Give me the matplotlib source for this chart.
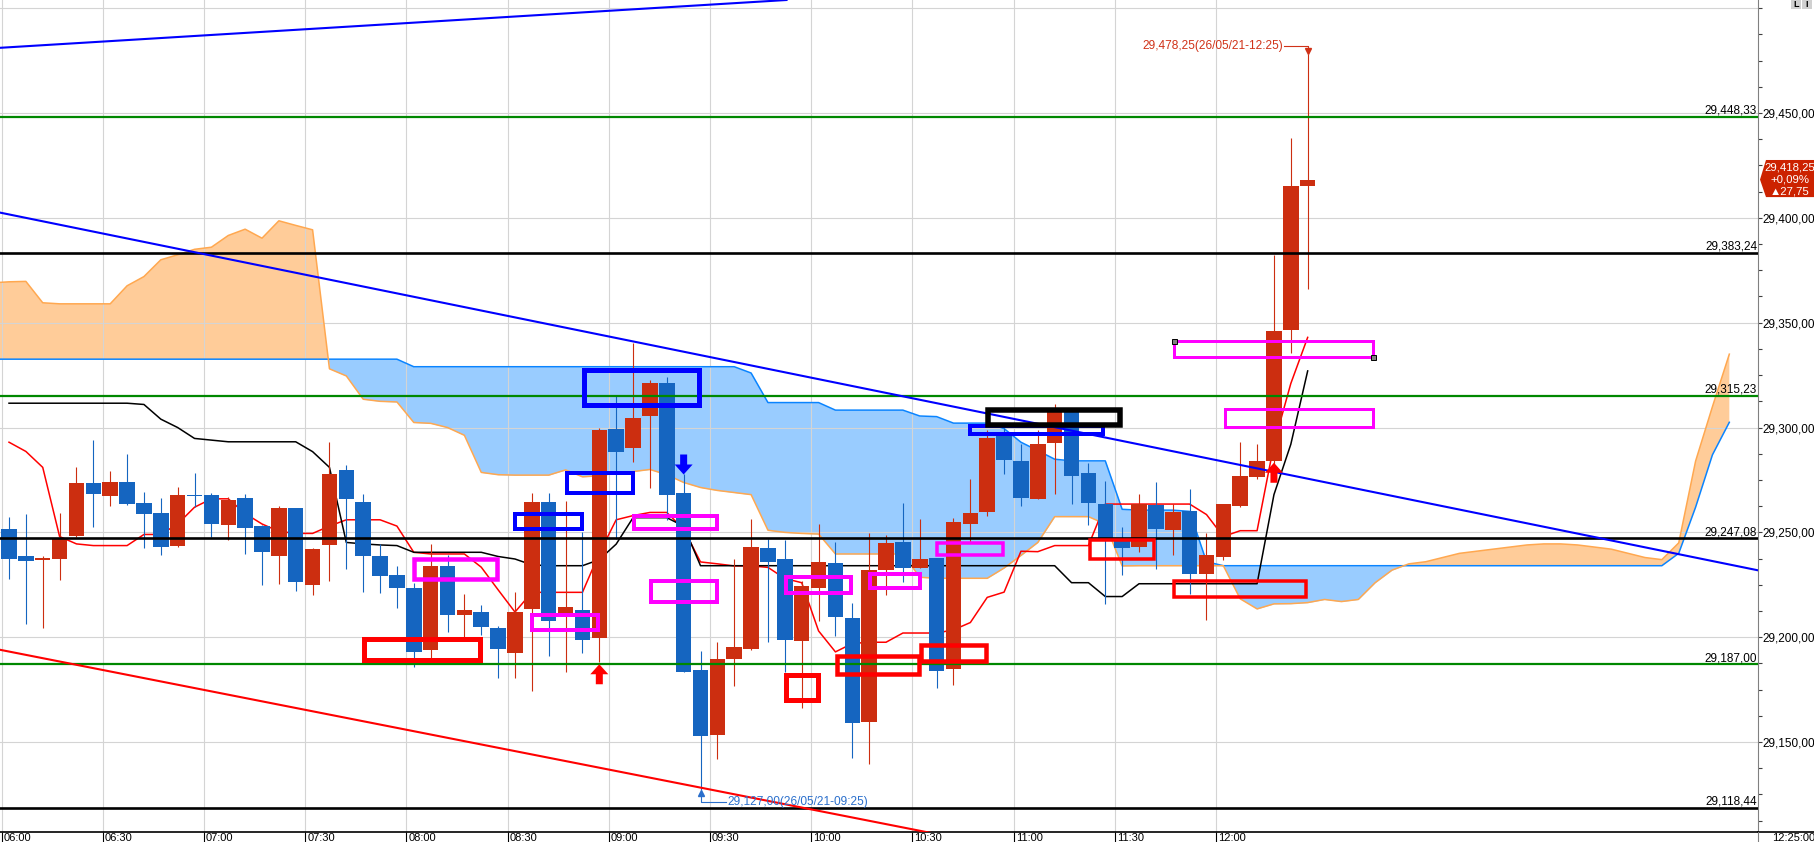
import matplotlib
matplotlib.use("Agg")
import matplotlib.pyplot as plt
import matplotlib.patches as patches
import matplotlib.transforms as mtransforms
from matplotlib.lines import Line2D
from matplotlib.ticker import FixedLocator, MultipleLocator, FuncFormatter
import numpy as np

plt.rcParams['font.family'] = ['Liberation Sans', 'DejaVu Sans']

# 5 minute candles, 06:00 .. 12:25 (bar index 0..77)
opens = [29251.6, 29238.7, 29237.0, 29237.3, 29248.4, 29273.5, 29267.3, 29274.0, 29264.0, 29259.2,
         29243.5, 29268.0, 29267.8, 29253.5, 29266.3, 29253.0, 29238.7, 29261.6, 29224.9, 29244.0,
         29279.7, 29264.4, 29238.7, 29229.7, 29223.5, 29194.0, 29234.0, 29210.6, 29212.0, 29204.4,
         29192.5, 29213.5, 29264.4, 29209.7, 29213.0, 29199.7, 29299.2, 29290.2, 29305.4, 29321.1,
         29268.7, 29184.4, 29153.2, 29189.7, 29194.4, 29242.5, 29237.3, 29198.3, 29223.5, 29235.4,
         29209.2, 29159.7, 29232.0, 29245.4, 29233.0, 29237.8, 29184.6, 29254.0, 29259.7, 29297.8,
         29284.0, 29265.9, 29292.5, 29307.3, 29278.3, 29263.5, 29246.3, 29243.0, 29263.0, 29251.1,
         29260.2, 29230.2, 29238.3, 29262.5, 29276.3, 29284.0, 29346.5, 29415.1]
highs = [29257.3, 29258.7, 29238.7, 29259.2, 29281.1, 29294.0, 29279.2, 29287.3, 29269.2, 29266.3,
         29271.6, 29278.3, 29268.7, 29267.0, 29268.3, 29253.5, 29262.5, 29261.6, 29242.5, 29293.0,
         29282.0, 29268.3, 29244.4, 29234.0, 29226.0, 29244.4, 29239.2, 29220.6, 29215.4, 29205.4,
         29221.6, 29268.7, 29268.7, 29264.9, 29250.0, 29299.7, 29315.0, 29340.2, 29322.5, 29324.0,
         29277.8, 29193.5, 29197.6, 29237.3, 29256.3, 29246.8, 29246.3, 29227.0, 29254.0, 29245.4,
         29216.3, 29249.7, 29248.7, 29264.0, 29256.3, 29238.0, 29256.8, 29275.4, 29298.7, 29300.0,
         29292.0, 29298.7, 29311.1, 29309.0, 29283.0, 29274.4, 29252.4, 29268.3, 29274.0, 29263.5,
         29270.6, 29249.7, 29263.5, 29293.0, 29292.0, 29382.4, 29438.1, 29478.25]
lows = [29227.8, 29206.3, 29204.4, 29227.3, 29248.0, 29252.7, 29262.5, 29263.0, 29242.5, 29239.2,
        29243.0, 29262.0, 29247.8, 29246.3, 29239.7, 29224.9, 29225.4, 29222.0, 29220.2, 29226.8,
        29232.5, 29221.6, 29221.1, 29214.0, 29185.9, 29189.7, 29202.5, 29200.0, 29201.0, 29180.6,
        29180.6, 29174.4, 29191.0, 29183.5, 29192.5, 29188.3, 29247.0, 29283.5, 29271.1, 29256.0,
        29183.3, 29127.0, 29142.0, 29176.5, 29194.0, 29197.8, 29183.3, 29166.3, 29207.8, 29200.6,
        29142.5, 29139.7, 29220.2, 29226.3, 29233.0, 29176.0, 29177.0, 29245.0, 29257.8, 29277.8,
        29262.5, 29265.9, 29268.3, 29263.5, 29253.5, 29215.9, 29229.7, 29240.6, 29232.5, 29239.2,
        29220.6, 29208.3, 29236.8, 29262.0, 29275.4, 29278.0, 29335.7, 29366.2]
closes = [29237.3, 29236.3, 29237.2, 29247.1, 29273.5, 29268.3, 29274.0, 29263.5, 29258.7, 29243.0,
          29267.8, 29267.3, 29254.0, 29265.4, 29252.0, 29240.6, 29261.6, 29226.3, 29242.0, 29277.8,
          29265.9, 29238.7, 29229.2, 29223.5, 29193.0, 29234.0, 29210.6, 29213.0, 29204.9, 29194.4,
          29212.0, 29264.4, 29207.8, 29214.4, 29198.7, 29298.7, 29288.3, 29304.4, 29321.1, 29267.8,
          29183.3, 29152.9, 29189.7, 29195.2, 29243.0, 29235.9, 29198.7, 29224.4, 29235.9, 29209.8,
          29159.2, 29232.1, 29244.9, 29233.0, 29237.3, 29184.1, 29254.9, 29259.2, 29294.9, 29284.4,
          29266.3, 29292.0, 29307.8, 29276.8, 29264.0, 29246.3, 29242.5, 29263.5, 29251.6, 29259.7,
          29230.2, 29239.2, 29263.5, 29276.8, 29284.0, 29345.9, 29415.4, 29418.25]

# ichimoku conversion / base lines, one value per candle
tenkan = [29293.0, 29288.6, 29281.0, 29248.0, 29244.5, 29243.7, 29243.7, 29243.7, 29249.0, 29249.0,
          29254.0, 29262.0, 29266.0, 29266.0, 29259.0, 29254.0, 29250.5, 29249.5, 29249.5, 29253.0,
          29256.0, 29256.0, 29256.0, 29253.0, 29240.5, 29239.7, 29239.7, 29239.7, 29233.4, 29222.6,
          29212.0, 29221.4, 29221.4, 29221.4, 29221.4, 29240.0, 29256.0, 29258.0, 29259.5, 29259.5,
          29251.6, 29235.9, 29235.0, 29234.0, 29234.0, 29233.3, 29228.0, 29226.0, 29203.0, 29193.0,
          29197.0, 29197.6, 29197.6, 29202.0, 29202.0, 29202.0, 29203.5, 29207.0, 29219.0, 29221.5,
          29241.0, 29240.8, 29243.7, 29243.7, 29243.7, 29263.5, 29263.5, 29263.5, 29263.5, 29263.5,
          29263.5, 29258.5, 29248.0, 29250.8, 29250.8, 29292.0, 29321.0, 29343.0]
kijun = [29311.6, 29311.6, 29311.6, 29311.6, 29311.6, 29311.6, 29311.6, 29311.6, 29311.0, 29304.0,
         29300.0, 29294.8, 29294.0, 29293.2, 29293.2, 29293.2, 29293.2, 29293.2, 29288.5, 29281.0,
         29245.2, 29244.5, 29244.0, 29243.7, 29240.5, 29240.5, 29240.5, 29240.5, 29240.5, 29238.5,
         29237.3, 29234.5, 29234.1, 29234.1, 29234.1, 29237.0, 29244.4, 29257.0, 29257.0, 29257.0,
         29253.0, 29234.1, 29234.1, 29234.1, 29234.1, 29234.1, 29234.1, 29234.1, 29234.1, 29234.1,
         29234.1, 29234.1, 29234.1, 29234.1, 29234.1, 29234.1, 29234.1, 29234.1, 29234.1, 29234.1,
         29234.1, 29234.1, 29234.1, 29226.0, 29226.0, 29219.4, 29219.4, 29225.5, 29225.5, 29225.5,
         29225.5, 29225.5, 29225.5, 29225.5, 29225.5, 29268.0, 29292.0, 29327.0]

# leading spans (cloud), index -1 .. 102
span_start = -1
span_a = [29332.6, 29332.6, 29332.6, 29332.6, 29332.6, 29332.6, 29332.6, 29332.6, 29332.6, 29332.6,
          29332.6, 29332.6, 29332.6, 29332.6, 29332.6, 29332.6, 29332.6, 29332.6, 29332.6, 29332.6,
          29332.6, 29332.6, 29332.6, 29332.6, 29332.6, 29329.0, 29329.0, 29329.0, 29329.0, 29329.0,
          29329.0, 29329.0, 29329.0, 29329.0, 29329.0, 29329.0, 29329.0, 29329.0, 29329.0, 29329.0,
          29329.0, 29329.0, 29329.0, 29329.0, 29329.0, 29326.0, 29311.9, 29311.9, 29311.9, 29311.9,
          29308.3, 29308.3, 29308.3, 29308.3, 29308.3, 29305.5, 29305.2, 29302.1, 29302.1, 29302.1,
          29299.5, 29293.0, 29289.0, 29284.9, 29284.1, 29284.1, 29284.1, 29261.0, 29260.6, 29260.6,
          29260.6, 29260.0, 29236.0, 29234.1, 29234.1, 29234.1, 29234.1, 29234.1, 29234.1, 29234.1,
          29234.1, 29234.1, 29234.1, 29234.1, 29234.1, 29234.1, 29234.1, 29234.1, 29234.1, 29234.1,
          29234.1, 29234.1, 29234.1, 29234.1, 29234.1, 29234.1, 29234.1, 29234.1, 29234.1, 29234.1,
          29240.0, 29262.0, 29287.0, 29302.5]
span_b = [29369.0, 29369.5, 29369.7, 29359.5, 29359.0, 29359.0, 29359.0, 29359.0, 29367.6, 29372.0,
          29380.0, 29382.4, 29385.0, 29386.0, 29391.6, 29394.6, 29390.3, 29398.6, 29396.4, 29394.3,
          29328.0, 29324.6, 29313.5, 29312.5, 29312.2, 29302.4, 29302.0, 29300.0, 29296.3, 29278.6,
          29277.5, 29277.3, 29277.3, 29277.3, 29279.8, 29276.5, 29277.0, 29278.3, 29279.0, 29280.0,
          29277.5, 29273.8, 29271.4, 29270.0, 29269.0, 29268.0, 29251.0, 29250.0, 29249.5, 29249.2,
          29239.7, 29239.7, 29239.7, 29239.7, 29239.7, 29228.6, 29228.1, 29228.1, 29228.1, 29228.1,
          29233.0, 29239.0, 29245.2, 29257.5, 29257.5, 29257.5, 29254.0, 29234.0, 29234.1, 29234.1,
          29234.1, 29234.1, 29234.1, 29234.1, 29218.3, 29213.5, 29215.9, 29216.0, 29216.5, 29218.0,
          29217.0, 29218.0, 29226.0, 29232.0, 29235.0, 29236.0, 29238.0, 29240.0, 29241.0, 29242.0,
          29243.0, 29244.0, 29244.5, 29244.5, 29244.0, 29243.0, 29242.0, 29240.0, 29238.0, 29237.0,
          29245.0, 29284.0, 29310.0, 29335.0]

# horizontal levels
level_values = [29448.33, 29383.24, 29315.23, 29247.08, 29187.00, 29118.44]
level_colors = ['#008800', 'black', '#008800', 'black', '#008800', 'black']

time_labels = ['06:00', '06:30', '07:00', '07:30', '08:00', '08:30', '09:00',
               '09:30', '10:00', '10:30', '11:00', '11:30', '12:00']

# trend lines: (bar0, price0, bar1, price1, colour)
trend_lines = [(-0.53, 29481.1, 46.1, 29503.9, '#0000FF'),
               (-0.53, 29402.5, 103.7, 29231.9, '#0000FF'),
               (-0.53, 29194.0, 60.0, 29098.2, '#FF0000')]

# drawn boxes: (bar0, bar1, price_low, price_high, colour, border px)
boxes = [(21.05, 27.93, 29189.0, 29199.0, '#FF0000', 5),
         (24.04, 28.93, 29227.9, 29237.1, '#FF00FF', 4.5),
         (30.03, 33.98, 29251.4, 29258.6, '#0000FF', 4),
         (31.01, 34.95, 29203.3, 29210.7, '#FF00FF', 4),
         (33.06, 36.97, 29269.0, 29278.3, '#0000FF', 4),
         (34.09, 40.91, 29310.7, 29327.4, '#0000FF', 5),
         (37.03, 41.98, 29251.7, 29257.6, '#FF00FF', 4),
         (38.04, 41.98, 29216.9, 29226.9, '#FF00FF', 4),
         (46.04, 49.93, 29221.2, 29228.8, '#FF00FF', 4),
         (46.07, 47.97, 29170.0, 29181.9, '#FF0000', 5),
         (49.07, 53.96, 29182.6, 29191.2, '#FF0000', 4.5),
         (51.02, 53.99, 29223.3, 29230.2, '#FF00FF', 4),
         (54.05, 57.93, 29188.6, 29196.4, '#FF0000', 4.5),
         (55.02, 58.94, 29239.3, 29244.8, '#FF00FF', 3.5),
         (56.98, 64.87, 29296.7, 29300.5, '#0000FF', 4),
         (58.05, 65.90, 29301.4, 29308.3, '#000000', 5.5),
         (64.07, 67.89, 29237.1, 29246.2, '#FF0000', 3.5),
         (69.08, 80.90, 29333.8, 29341.2, '#FF00FF', 3),
         (72.07, 80.88, 29300.2, 29308.6, '#FF00FF', 3),
         (69.08, 76.90, 29219.0, 29226.9, '#FF0000', 3.5)]

# signal arrows: (bar, tip price, direction, colour)
signal_arrows = [(35, 29187.1, 'up', '#FF0000'),
                 (40, 29277.6, 'down', '#0000FF'),
                 (75, 29283.2, 'up', '#FF0000')]

RED = '#CC2E10'
BLUE = '#1565C0'
FS = 8.5


def fmt_price(v):
    return f"{v:,.2f}".replace(".", ",")


W, H = 1815, 842
fig = plt.figure(figsize=(W / 100, H / 100), dpi=100)
ax = fig.add_axes([0, 10 / H, 1758 / W, 832 / H])
ax.set_xlim(-0.534, 103.7)
ax.set_ylim(29107.1, 29503.9)

# cloud
sx = np.arange(span_start, span_start + len(span_a))
sa = np.array(span_a)
sb = np.array(span_b)
ax.fill_between(sx, sa, sb, where=sa >= sb, interpolate=True, color='#99CCFF', lw=0, zorder=1)
ax.fill_between(sx, sa, sb, where=sb > sa, interpolate=True, color='#FFCC99', lw=0, zorder=1)
ax.plot(sx, sa, color='#0A84FF', lw=1.1, zorder=1.7)
ax.plot(sx, sb, color='#FFA850', lw=1.1, zorder=1.7)

# conversion / base lines
bx = np.arange(len(opens))
ax.plot(bx, tenkan, color='#FF0000', lw=1.1, zorder=2.0)
ax.plot(bx, kijun, color='black', lw=1.1, zorder=2.1)

# candles
o = np.array(opens)
c = np.array(closes)
cols = np.where(c >= o, RED, BLUE)
ax.vlines(bx, lows, highs, colors=cols, lw=0.8, zorder=3)
ax.bar(bx, np.maximum(np.abs(c - o), 0.6), bottom=np.minimum(o, c), width=0.92,
       color=cols, linewidth=0, zorder=3.1)

# horizontal levels with labels
for v, col in zip(level_values, level_colors):
    ax.axhline(v, color=col, lw=1.9 if col == 'black' else 1.6, zorder=5)
    ax.text(0.9995, v + 1.6, fmt_price(v), transform=ax.get_yaxis_transform(),
            ha='right', va='baseline', fontsize=FS, color='black', zorder=8)

# trend lines
for x0, y0, x1, y1, col in trend_lines:
    ax.plot([x0, x1], [y0, y1], color=col, lw=1.5, zorder=5.5)

# boxes
for x0, x1, p0, p1, col, px in boxes:
    ax.add_patch(patches.Rectangle((x0, p0), x1 - x0, p1 - p0, fill=False, edgecolor=col,
                                   lw=px * 0.72, joinstyle='miter', zorder=6))
ax.plot([69.08, 80.9], [29341.2, 29333.8], ls='none', marker='s', ms=3.6,
        mfc='#808080', mec='black', mew=0.7, zorder=6.5)


def draw_arrow(x, tip, direction, col):
    s = 1 if direction == 'up' else -1
    hw, sw, hl, tot = 9, 3.5, 10, 20
    verts = [(0, 0), (hw, -s * hl), (sw, -s * hl), (sw, -s * tot),
             (-sw, -s * tot), (-sw, -s * hl), (-hw, -s * hl)]
    tx, ty = ax.transData.transform((x, tip))
    tr = mtransforms.Affine2D().translate(tx, ty)
    ax.add_patch(patches.Polygon(verts, closed=True, transform=tr, color=col, lw=0, zorder=7))


for x, tip, d, col in signal_arrows:
    draw_arrow(x, tip, d, col)

# high / low marks
hi_col = '#D03218'
ax.plot([75.6, 77, 77], [29481.9, 29481.9, 29480.2], color=hi_col, lw=0.8, zorder=7)
ax.plot([77], [29479.6], marker='v', ms=4, color=hi_col, zorder=7)
ax.text(75.52, 29481.9, '29,478,25(26/05/21-12:25)', ha='right', va='center',
        fontsize=8.6, color=hi_col, zorder=8)
lo_col = '#2A6FCC'
ax.plot([41, 41, 42.5], [29125.3, 29121.2, 29121.2], color=lo_col, lw=0.8, zorder=7)
ax.plot([41], [29125.6], marker='^', ms=4, color=lo_col, zorder=7)
ax.text(42.58, 29121.2, '29,127,00(26/05/21-09:25)', ha='left', va='center',
        fontsize=8.6, color=lo_col, zorder=8)

# grid / axes
xt = [6 * k - 0.433 for k in range(len(time_labels))]
ax.set_xticks(xt)
ax.set_xticklabels([])
ax.tick_params(axis='x', length=7.2, width=0.8, color='black', direction='out')
ax.yaxis.tick_right()
ax.yaxis.set_major_locator(FixedLocator([29150, 29200, 29250, 29300, 29350, 29400, 29450, 29500]))
ax.yaxis.set_minor_locator(MultipleLocator(12.5))
ax.yaxis.set_major_formatter(FuncFormatter(lambda v, p: fmt_price(v) if v < 29475 else ''))
ax.tick_params(axis='y', which='both', length=3, width=0.8, pad=0.5, color='#404040',
               labelsize=FS, labelcolor='black')
ax.set_axisbelow('line')
ax.grid(True, color='#D4D4D4', lw=0.8)
for side in ['top', 'left']:
    ax.spines[side].set_visible(False)
ax.spines['right'].set_color('#808080')
ax.spines['bottom'].set_color('black')
ax.spines['bottom'].set_linewidth(1.2)

# time labels along the bottom edge
trans = mtransforms.offset_copy(mtransforms.blended_transform_factory(ax.transData, fig.transFigure),
                                fig=fig, x=2, y=0, units='dots')
for x, lab in zip(xt, time_labels):
    ax.text(x, 0.8 / H, lab, transform=trans, ha='left', va='baseline', fontsize=8, clip_on=False)
fig.text(1.0, 0.8 / H, '12:25:00', ha='right', va='baseline', fontsize=8)
fig.add_artist(Line2D([1758 / W, 1], [10 / H, 10 / H], color='black', lw=1.2))
fig.add_artist(Line2D([1758 / W, 1758 / W], [0, 10 / H], color='#808080', lw=0.8))

# current price tag
yt = mtransforms.blended_transform_factory(fig.transFigure, ax.transData)
px = 1 / W
tag = [(1760 * px, 29418.25), (1766 * px, 29427.6), (1.0, 29427.6),
       (1.0, 29409.9), (1766 * px, 29409.9)]
fig.add_artist(patches.Polygon(tag, closed=True, transform=yt, color='#CC2200', lw=0, clip_on=False))
for dy, s in zip([5.8, 0.0, -5.9], ['29,418,25', '+0,09%', '\u25b227,75']):
    fig.text(1789.5 * px, 29418.25 + dy, s, transform=yt, ha='center', va='center',
             fontsize=8.2, color='white')

# small toolbar buttons top right
for x0, s in [(1791, 'L'), (1802, 'I')]:
    fig.add_artist(patches.Rectangle((x0 * px, 1 - 9 / H), 10 * px, 9 / H, transform=fig.transFigure,
                                     color='#D0D0D0', lw=0))
    fig.text((x0 + 5) * px, 1 - 4.5 / H, s, ha='center', va='center', fontsize=6.5,
             fontweight='bold', color='black')

fig.savefig('out.png', dpi=100)
